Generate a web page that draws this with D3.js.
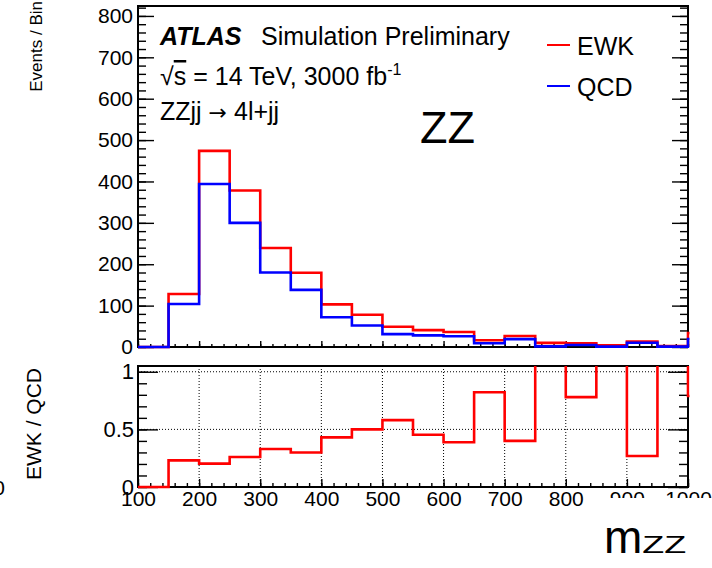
<!DOCTYPE html>
<html>
<head>
<meta charset="utf-8">
<script src="https://cdn.jsdelivr.net/npm/d3@7"></script>
<style>
  html, body { margin: 0; padding: 0; background: #fff; }
  svg { display: block; font-family: "Liberation Sans", Arial, Helvetica, sans-serif; }
  .tick text { font-family: "Liberation Sans", Arial, Helvetica, sans-serif; }
</style>
</head>
<body>
<svg id="chart" width="712" height="568"></svg>
<script>
// Bin lower edges in m_ZZ [GeV]; last bin (1000-1050) is the overflow just past the axis
const binLow  = [100, 150, 200, 250, 300, 350, 400, 450, 500, 550, 600, 650, 700, 750, 800, 850, 900, 950, 1000];
const binHigh = [150, 200, 250, 300, 350, 400, 450, 500, 550, 600, 650, 700, 750, 800, 850, 900, 950, 1000, 1050];

// Expected events per bin for each process
const qcdEvents = [0, 104, 394, 300, 180, 138, 72, 52, 31, 28, 26, 9, 19, 1.6, 5, 0.8, 10.2, 0.8, 19];
const ewkEvents = [0, 24, 80, 78, 59.4, 41.4, 31, 26, 18, 12.7, 10.1, 7.4, 7.6, 8.4, 3.9, 3.2, 2.75, 1.6, 15];

// Axis tick values and labels
const xMajor = [100, 200, 300, 400, 500, 600, 700, 800, 900, 1000];
const yMajor = [0, 100, 200, 300, 400, 500, 600, 700, 800];
const rMajor = [0, 0.5, 1];
const xGrid  = [200, 300, 400, 500, 600, 700, 800, 900];
const rGrid  = [0.5, 1];

const legendEntries = ["EWK", "QCD"];
const colors = { EWK: "#ff0000", QCD: "#0000ff" };

const FONT = '"Liberation Sans", Arial, Helvetica, sans-serif';
const svg = d3.select("#chart");

// Panel geometry
const L = 138, R = 688;
const top1 = 6, bot1 = 347;   // upper panel
const top2 = 366, bot2 = 487; // ratio panel

const x = d3.scaleLinear().domain([100, 1000]).range([L, R]);
const y = d3.scaleLinear().domain([0, 824]).range([bot1, top1]);
const yr = d3.scaleLinear().domain([0, 1.05]).range([bot2, top2]);

// Stacked histogram: QCD at the bottom, EWK stacked on top
const stacked = qcdEvents.map((q, i) => q + ewkEvents[i]);
const ratio = qcdEvents.map((q, i) => q > 0 ? ewkEvents[i] / q : 0);

function stepPath(values, ys) {
  const pts = [];
  values.forEach((v, i) => {
    pts.push([x(binLow[i]), ys(v)]);
    pts.push([x(binHigh[i]), ys(v)]);
  });
  pts.push([x(binHigh[binHigh.length - 1]), ys(0)]);
  return d3.line()(pts);
}

const defs = svg.append("defs");
defs.append("clipPath").attr("id", "clipTop").append("rect")
  .attr("x", L - 2).attr("y", top1).attr("width", R - L + 3.5).attr("height", bot1 - top1 + 2);
defs.append("clipPath").attr("id", "clipRatio").append("rect")
  .attr("x", L - 2).attr("y", top2).attr("width", R - L + 3.5).attr("height", bot2 - top2 + 2);

// ---------- upper panel ----------
function styleAxis(g) {
  g.select(".domain").remove();
  g.selectAll(".tick line").attr("stroke", "#000").attr("stroke-width", 1.4);
}

// y minor ticks every 20
const yMinor = d3.range(0, 821, 20);
svg.append("g").attr("transform", `translate(${L},0)`)
  .call(d3.axisLeft(y).tickValues(yMinor).tickSize(-8).tickFormat(""))
  .call(styleAxis);
svg.append("g").attr("transform", `translate(${R},0)`)
  .call(d3.axisRight(y).tickValues(yMinor).tickSize(-8).tickFormat(""))
  .call(styleAxis);
svg.append("g").attr("transform", `translate(${L},0)`)
  .call(d3.axisLeft(y).tickValues(yMajor).tickSize(-16).tickPadding(5).tickFormat(d3.format("d")))
  .call(styleAxis)
  .call(g => g.selectAll("text").attr("font-size", 21).attr("font-family", FONT).attr("fill", "#000"));
svg.append("g").attr("transform", `translate(${R},0)`)
  .call(d3.axisRight(y).tickValues(yMajor).tickSize(-16).tickFormat(""))
  .call(styleAxis);

// x ticks on the upper panel (no labels)
const xMinor = d3.range(100, 1001, 20);
svg.append("g").attr("transform", `translate(0,${bot1})`)
  .call(d3.axisBottom(x).tickValues(xMinor).tickSize(-3).tickFormat(""))
  .call(styleAxis);
svg.append("g").attr("transform", `translate(0,${bot1})`)
  .call(d3.axisBottom(x).tickValues(xMajor).tickSize(-6).tickFormat(""))
  .call(styleAxis);

// frame
svg.append("rect").attr("x", L).attr("y", top1).attr("width", R - L).attr("height", bot1 - top1)
  .attr("fill", "none").attr("stroke", "#000").attr("stroke-width", 2);

const histTop = svg.append("g").attr("clip-path", "url(#clipTop)");
histTop.append("path").attr("d", stepPath(stacked, y))
  .attr("fill", "none").attr("stroke", colors.EWK).attr("stroke-width", 2.6);
histTop.append("path").attr("d", stepPath(qcdEvents, y))
  .attr("fill", "none").attr("stroke", colors.QCD).attr("stroke-width", 2.6);

// ---------- ratio panel ----------
const gridG = svg.append("g");
gridG.selectAll("line.vg").data(xGrid).join("line")
  .attr("x1", d => x(d)).attr("x2", d => x(d)).attr("y1", top2).attr("y2", bot2)
  .attr("stroke", "#000").attr("stroke-width", 1).attr("stroke-dasharray", "1,2");
gridG.selectAll("line.hg").data(rGrid).join("line")
  .attr("x1", L).attr("x2", R).attr("y1", d => yr(d)).attr("y2", d => yr(d))
  .attr("stroke", "#000").attr("stroke-width", 1).attr("stroke-dasharray", "1,2");

const rMinor = d3.range(0, 1.01, 0.1);
svg.append("g").attr("transform", `translate(${L},0)`)
  .call(d3.axisLeft(yr).tickValues(rMinor).tickSize(-9).tickFormat(""))
  .call(styleAxis);
svg.append("g").attr("transform", `translate(${R},0)`)
  .call(d3.axisRight(yr).tickValues(rMinor).tickSize(-9).tickFormat(""))
  .call(styleAxis);
svg.append("g").attr("transform", `translate(${L},0)`)
  .call(d3.axisLeft(yr).tickValues(rMajor).tickSize(-20).tickPadding(4).tickFormat(d3.format("~g")))
  .call(styleAxis)
  .call(g => g.selectAll("text").attr("font-size", 22).attr("font-family", FONT).attr("fill", "#000"));
svg.append("g").attr("transform", `translate(${R},0)`)
  .call(d3.axisRight(yr).tickValues(rMajor).tickSize(-20).tickFormat(""))
  .call(styleAxis);

svg.append("g").attr("transform", `translate(0,${bot2})`)
  .call(d3.axisBottom(x).tickValues(xMinor).tickSize(-4).tickFormat(""))
  .call(styleAxis);
svg.append("g").attr("transform", `translate(0,${bot2})`)
  .call(d3.axisBottom(x).tickValues(xMajor).tickSize(-8).tickPadding(6).tickFormat(d3.format("d")))
  .call(styleAxis)
  .call(g => g.selectAll("text").attr("font-size", 21).attr("font-family", FONT).attr("fill", "#000")
    .attr("y", 4).attr("dy", "0.71em"));

svg.append("rect").attr("x", L).attr("y", top2).attr("width", R - L).attr("height", bot2 - top2)
  .attr("fill", "none").attr("stroke", "#000").attr("stroke-width", 2);

svg.append("g").attr("clip-path", "url(#clipRatio)")
  .append("path").attr("d", stepPath(ratio, yr))
  .attr("fill", "none").attr("stroke", colors.EWK).attr("stroke-width", 2.6);

// ---------- text ----------
const t1 = svg.append("text").attr("x", 160).attr("y", 45).attr("font-size", 25).attr("fill", "#000");
t1.append("tspan").attr("font-weight", "bold").attr("font-style", "italic").text("ATLAS");
svg.append("text").attr("x", 261).attr("y", 45).attr("font-size", 25).text("Simulation Preliminary");

const t2 = svg.append("text").attr("x", 160).attr("y", 85).attr("font-size", 25);
t2.append("tspan").text("√");
t2.append("tspan").attr("text-decoration", "overline").text("s");
t2.append("tspan").text(" = 14 TeV, 3000 fb");
t2.append("tspan").attr("font-size", 16).attr("dy", -10).text("-1");

const t3 = svg.append("text").attr("x", 160).attr("y", 120).attr("font-size", 25);
t3.append("tspan").text("ZZjj ");
t3.append("tspan").attr("font-family", '"DejaVu Sans", sans-serif').attr("font-size", 22).text("→");
t3.append("tspan").text(" 4l+jj");

svg.append("text").attr("x", 420).attr("y", 143).attr("font-size", 45).text("ZZ");

// legend
legendEntries.forEach((name, i) => {
  const ly = 45 + i * 41;
  svg.append("line").attr("x1", 547).attr("x2", 570).attr("y1", ly).attr("y2", ly)
    .attr("stroke", colors[name]).attr("stroke-width", 2);
  svg.append("text").attr("x", 577).attr("y", ly + 9.5).attr("font-size", 25).text(name);
});

// axis titles
svg.append("text").attr("transform", "translate(42,1) rotate(-90)")
  .attr("text-anchor", "end").attr("font-size", 17).text("Events / Bin");
svg.append("text").attr("transform", "translate(41,368) rotate(-90)")
  .attr("text-anchor", "end").attr("font-size", 21).text("EWK / QCD");
svg.append("text").attr("x", 5).attr("y", 495).attr("text-anchor", "end").attr("font-size", 21).text("0");

// x-axis title on its own white box
svg.append("rect").attr("x", 606).attr("y", 498).attr("width", 106).attr("height", 70).attr("fill", "#fff");
const xt = svg.append("text").attr("x", 604).attr("y", 553);
xt.append("tspan").attr("font-size", 46).text("m");
xt.append("tspan").attr("font-size", 23).attr("textLength", 44).attr("lengthAdjust", "spacingAndGlyphs").text("ZZ");
</script>
</body>
</html>
